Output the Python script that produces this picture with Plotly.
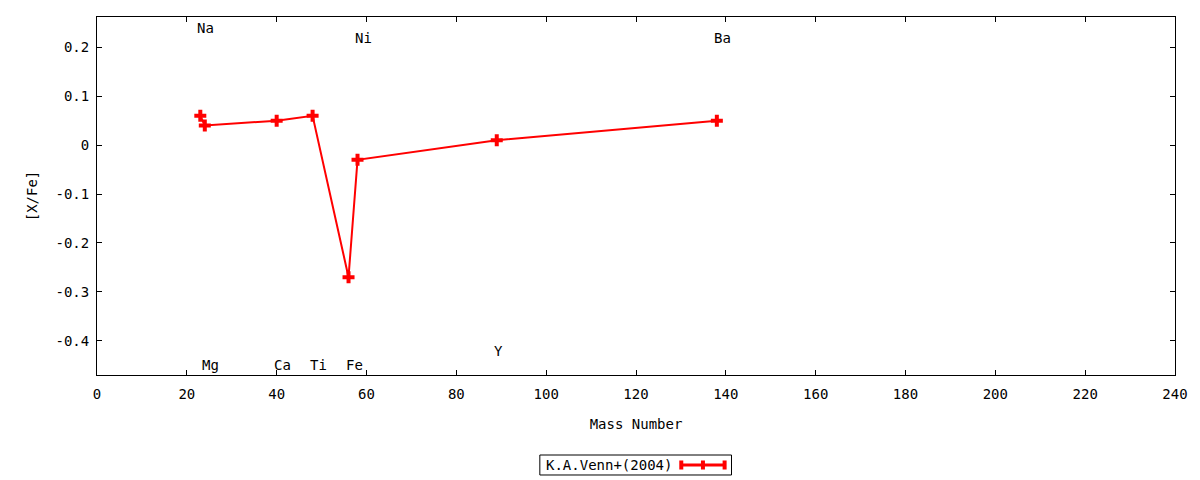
import plotly.graph_objects as go

# [X/Fe] abundances, K.A.Venn+(2004)
elements = ["Na", "Mg", "Ca", "Ti", "Fe", "Ni", "Y", "Ba"]
mass_number = [23, 24, 40, 48, 56, 58, 89, 138]
x_fe = [0.06, 0.04, 0.05, 0.06, -0.27, -0.03, 0.01, 0.05]

# where the element names sit (gnuplot labels)
label_y = [0.24, -0.45, -0.45, -0.45, -0.45, 0.22, -0.42, 0.22]

x_ticks = list(range(0, 241, 20))
y_ticks = [-0.4, -0.3, -0.2, -0.1, 0, 0.1, 0.2]
y_tick_text = ["-0.4", "-0.3", "-0.2", "-0.1", "0", "0.1", "0.2"]

series_name = "K.A.Venn+(2004)"
red = "#ff0000"
font = "DejaVu Sans Mono"

fig = go.Figure()
fig.add_trace(go.Scatter(
    x=mass_number, y=x_fe, mode="lines+markers", name=series_name,
    line=dict(color=red, width=2),
    marker=dict(symbol="cross", size=10, color=red),
    showlegend=False,
))

for el, m, ly in zip(elements, mass_number, label_y):
    fig.add_annotation(x=m, y=ly, text=el, showarrow=False,
                       xanchor="left", yanchor="middle", xshift=-5,
                       font=dict(family=font, size=14, color="black"))

# gnuplot style key below the plot: text first, sample on the right
fig.add_shape(type="rect", xref="paper", yref="paper",
              x0=0.4108, x1=0.5886, y0=-0.2793, y1=-0.2235,
              line=dict(color="black", width=1))
fig.add_annotation(xref="paper", yref="paper", x=0.5351, y=-0.2514,
                   text=series_name, showarrow=False,
                   xanchor="right", yanchor="middle",
                   font=dict(family=font, size=14, color="black"))
fig.add_shape(type="line", xref="paper", yref="paper",
              x0=0.5420, x1=0.5822, y0=-0.2514, y1=-0.2514,
              line=dict(color=red, width=3))
for xs in [0.5420, 0.5621, 0.5822]:
    fig.add_shape(type="line", xref="paper", yref="paper",
                  x0=xs, x1=xs, y0=-0.2640, y1=-0.2388,
                  line=dict(color=red, width=4))

axis_style = dict(showline=True, linecolor="black", linewidth=1,
                  mirror="allticks", ticks="inside", ticklen=5,
                  tickcolor="black", showgrid=False, zeroline=False,
                  tickfont=dict(family=font, size=14, color="black"))

fig.update_xaxes(range=[0, 240], tickvals=x_ticks, ticklabelstandoff=6,
                 title=dict(text="Mass Number", standoff=18,
                            font=dict(family=font, size=14, color="black")),
                 **axis_style)
fig.update_yaxes(range=[-0.47, 0.262], tickvals=y_ticks, ticktext=y_tick_text,
                 ticklabelstandoff=4,
                 title=dict(text="[X/Fe]", standoff=14,
                            font=dict(family=font, size=14, color="black")),
                 **axis_style)

fig.update_layout(
    width=1200, height=480,
    margin=dict(l=97, r=23, t=17, b=105),
    plot_bgcolor="white", paper_bgcolor="white",
    showlegend=False,
)

# page has a default 8px body margin; drop it so the figure fills the window
fig.write_html("out.html",
               config={"displayModeBar": False},
               post_script="document.body.style.margin='0';"
                           "document.body.style.overflow='hidden';")
